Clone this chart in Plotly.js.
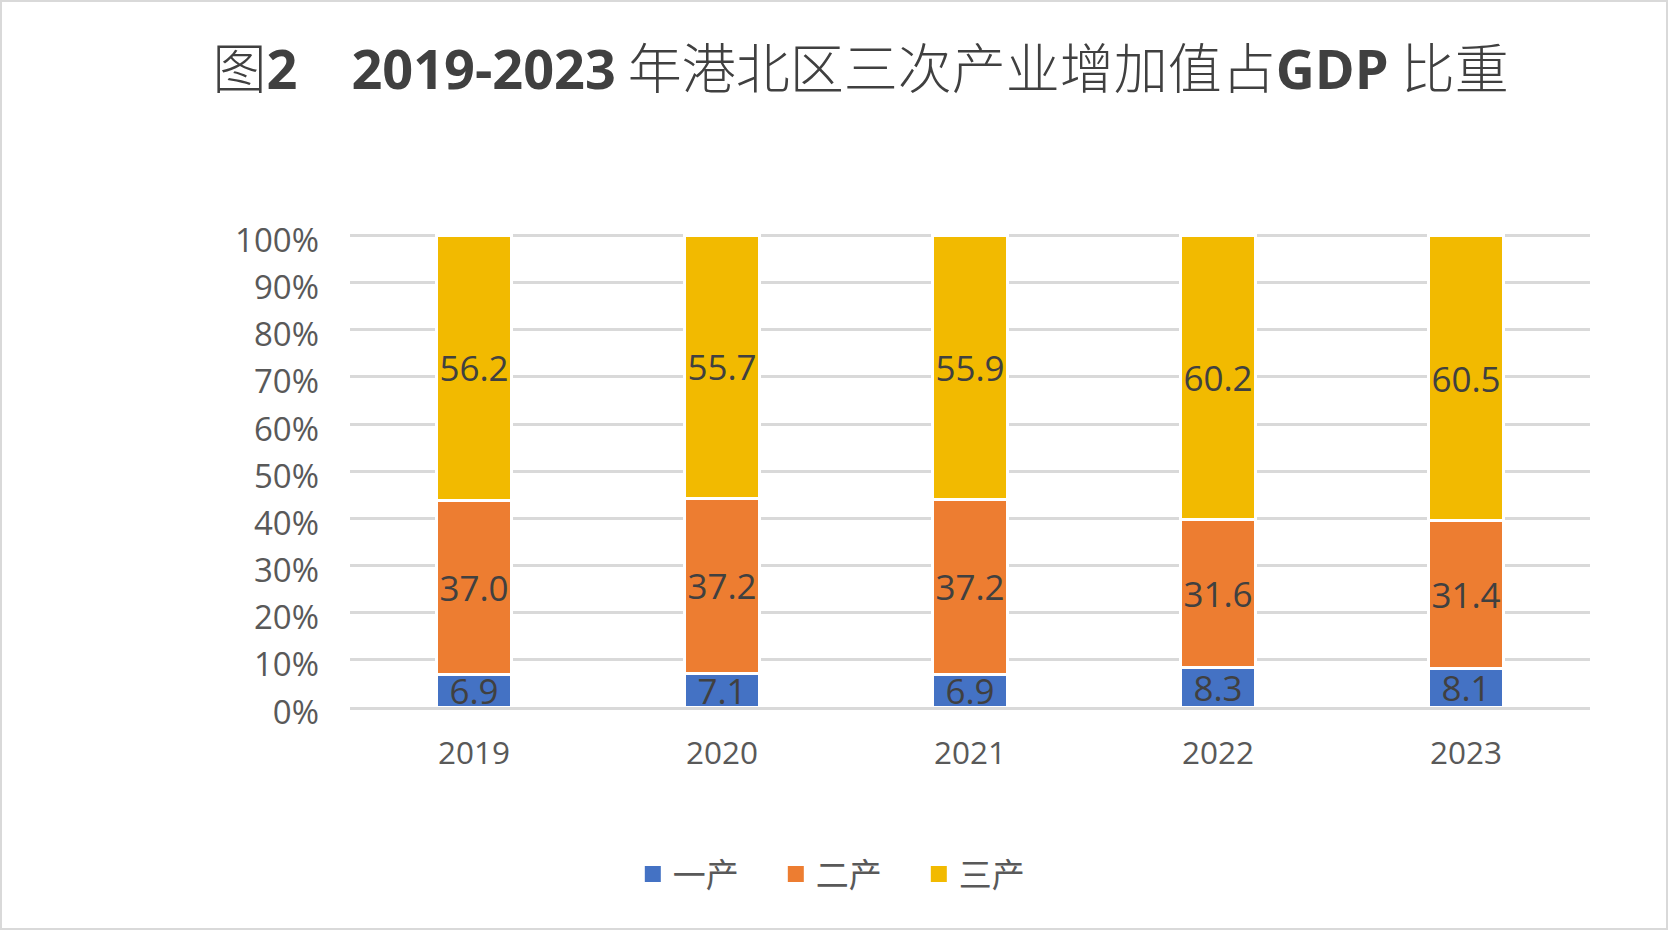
<!DOCTYPE html>
<html>
<head>
<meta charset="utf-8">
<script src="https://cdn.plot.ly/plotly-3.0.1.min.js"></script>
<style>
  html,body{margin:0;padding:0;background:#fff}
  #chart{width:1668px;height:930px;box-sizing:border-box;border:2px solid #d9d9d9}
</style>
</head>
<body>
<div id="chart"></div>
<script>
// 2019-2023 港北区三次产业增加值占GDP比重 (%)
const years=["2019","2020","2021","2022","2023"];
const primary=[6.9,7.1,6.9,8.3,8.1];      // 一产
const secondary=[37.0,37.2,37.2,31.6,31.4]; // 二产
const tertiary=[56.2,55.7,55.9,60.2,60.5];  // 三产
const seriesNames=["一产","二产","三产"];
const colors=["#4472C4","#ED7D31","#F2BA00"];

const W=1664,H=926;
const LAT="'Open Sans','Noto Sans',sans-serif";
const CJK="'Noto Sans CJK SC',sans-serif";
const num=s=>`<span style="font-family:${LAT};font-weight:bold">${s}</span>`;

const traces=[primary,secondary,tertiary].map((vals,i)=>({
  type:"bar",x:years,y:vals,name:seriesNames[i],showlegend:false,
  marker:{color:colors[i],line:{color:"#fff",width:3}},
  text:vals.map(v=>v.toFixed(1)),texttemplate:"%{text}",
  textposition:"inside",insidetextanchor:"middle",textangle:0,constraintext:"none",
  insidetextfont:{family:LAT,size:35,color:"#404040"},hoverinfo:"x+y+name"
}));
// legend entries (bigger squares than the bar legend glyph), no visible points
seriesNames.forEach((nm,i)=>traces.push({
  type:"scatter",mode:"markers",x:[years[0]],y:[null],name:nm,
  marker:{symbol:"square",size:17,color:colors[i]},hoverinfo:"skip"
}));

const layout={
  width:W,height:H,paper_bgcolor:"#fff",plot_bgcolor:"#fff",
  margin:{l:348,r:76,t:231,b:221},
  barmode:"stack",barnorm:"percent",bargap:0.70,
  font:{family:LAT,color:"#595959"},
  title:{
    text:"图"+num("2")+"\u3000"+num("2019-2023")+" 年港北区三次产业增加值占"+num("GDP")+" 比重",
    font:{family:CJK,size:54,color:"#404040",weight:300},
    xref:"container",x:0.516,xanchor:"center",yref:"container",y:1-68/H,yanchor:"middle"
  },
  xaxis:{type:"category",showgrid:false,zeroline:false,showline:true,linecolor:"#d9d9d9",linewidth:3,
    ticks:"",ticklabelstandoff:16,tickfont:{family:LAT,size:31.5,color:"#595959"},fixedrange:true},
  yaxis:{range:[0,100.5],tick0:0,dtick:10,ticksuffix:"%",
    showgrid:true,gridcolor:"#d9d9d9",gridwidth:2.5,
    zeroline:false,showline:false,ticks:"",ticklabelstandoff:30,ticklabelshift:5,
    tickfont:{family:LAT,size:33,color:"#595959"},fixedrange:true},
  legend:{orientation:"h",xref:"container",x:0.508,xanchor:"center",yref:"container",y:1-872/H,yanchor:"middle",
    font:{family:CJK,size:33,color:"#595959"},itemwidth:30,entrywidth:98,traceorder:"normal"},
  showlegend:true
};

Plotly.newPlot("chart",traces,layout,{displayModeBar:false,responsive:false});
</script>
</body>
</html>
